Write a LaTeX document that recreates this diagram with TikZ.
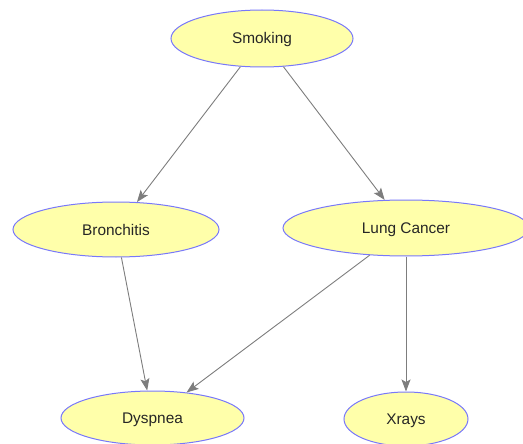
\documentclass[tikz,border=0pt]{standalone}
\usepackage{fontspec}
\setmainfont{Liberation Sans}
\usetikzlibrary{shapes.geometric,arrows.meta}
\definecolor{nodefill}{RGB}{255,255,170}
\definecolor{nodeedge}{RGB}{120,120,250}
\definecolor{linkgray}{RGB}{125,125,125}
\begin{document}
\begin{tikzpicture}[x=1pt,y=-1pt,
  var/.style={ellipse, draw=nodeedge, fill=nodefill, line width=1pt, inner sep=0pt,
    text height=11pt, text depth=0pt,
    font=\fontsize{15.4}{18}\selectfont, text=black!85},
  link/.style={draw=linkgray, line width=0.9pt,
    -{Stealth[length=12pt,width=9pt,inset=2.5pt]}}]
\useasboundingbox (0,0) rectangle (523,444);
\clip (0,0) rectangle (523,444);
\node[var, minimum width=182pt, minimum height=57pt] (smk) at (262,38.5) {Smoking};
\node[var, minimum width=206pt, minimum height=55pt] (bro) at (116,229.5) {Bronchitis};
\node[var, minimum width=246pt, minimum height=56pt] (lung) at (406,228) {Lung Cancer};
\node[var, minimum width=183pt, minimum height=54pt] (dys) at (152.5,418) {Dyspnea};
\node[var, minimum width=124pt, minimum height=54pt] (xr) at (406,419) {Xrays};
\draw[link] (smk) -- (bro);
\draw[link] (smk) -- (lung);
\draw[link] (bro) -- (dys);
\draw[link] (lung) -- (dys);
\draw[link] (lung) -- (xr);
\end{tikzpicture}
\end{document}
